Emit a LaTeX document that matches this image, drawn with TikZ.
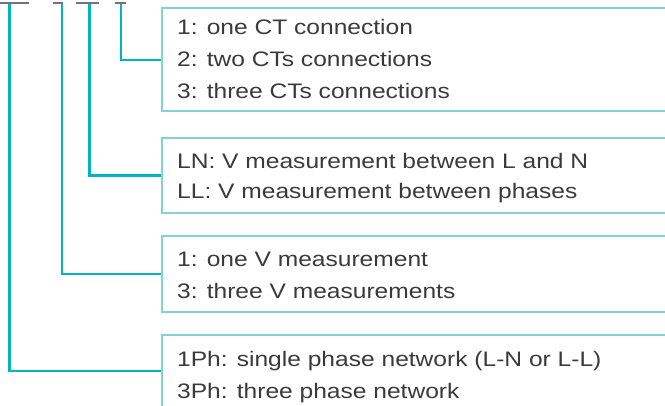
\documentclass[tikz,border=0pt]{standalone}
\usepackage{fontspec}
\setmainfont[FakeStretch=1.17]{Liberation Sans}
\definecolor{boxline}{HTML}{82D2D6}
\definecolor{wire}{HTML}{00B5C0}
\definecolor{txt}{HTML}{3A3A3A}
\tikzset{
  optbox/.style={draw=boxline, line width=2pt, minimum width=520pt, anchor=north west, inner sep=0pt},
  opt/.style={anchor=base west, inner sep=0pt, text=txt, font=\fontsize{21}{25}\selectfont},
  wirel/.style={draw=wire, line width=2.4pt},
  codeline/.style={draw=black!55, line width=1.2pt}
}
\begin{document}
\begin{tikzpicture}[x=1pt,y=-1pt]
    \useasboundingbox (0,0) rectangle (665,406);
    % underlined code fields
    \draw[codeline] (0,3) -- (29,3);
    \draw[codeline] (53,3) -- (63,3);
    \draw[codeline] (76,3) -- (99,3);
    \draw[codeline] (115,3) -- (126,3);
    \coordinate (fph) at (9.5,4.5);
    \coordinate (fv)  at (62,4.5);
    \coordinate (fln) at (89.5,4.5);
    \coordinate (fct) at (121,4.5);

    \node[optbox, minimum height=103pt] (ct)  at (160.5,7.3) {};
    \node[optbox, minimum height=75.6pt] (ln) at (160.5,136.7) {};
    \node[optbox, minimum height=76pt] (vm)   at (160.5,235) {};
    \node[optbox, minimum height=72pt] (ph)   at (160.5,334) {};

    \node[opt] (ct1) at (177,35)    {1: one CT connection};
    \node[opt] (ct2) at (177,66.7)  {2: two CTs connections};
    \node[opt] (ct3) at (177,98.3)  {3: three CTs connections};
    \node[opt] (ln1) at (177,168.3) {LN: V measurement between L and N};
    \node[opt] (ln2) at (177,199)   {LL: V measurement between phases};
    \node[opt] (vm1) at (177,266.7) {1: one V measurement};
    \node[opt] (vm3) at (177,299)   {3: three V measurements};
    \node[opt] (ph1) at (177,366.7) {1Ph: single phase network (L-N or L-L)};
    \node[opt] (ph3) at (177,399)   {3Ph: three phase network};

    \draw[wirel] (fct) |- (ct.west);
    \draw[wirel] (fln) |- (ln.west);
    \draw[wirel] (fv)  |- (vm.west);
    \draw[wirel] (fph) |- (ph.west);
\end{tikzpicture}
\end{document}
